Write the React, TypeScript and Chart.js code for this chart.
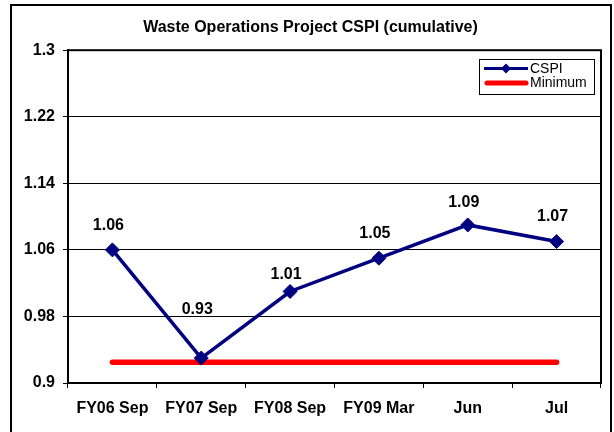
import React, { useEffect, useRef } from "react";
import { Chart, registerables } from "chart.js";

Chart.register(...registerables);

const categories = ["FY06 Sep", "FY07 Sep", "FY08 Sep", "FY09 Mar", "Jun", "Jul"];
const cspiValues = [1.06, 0.93, 1.01, 1.05, 1.09, 1.07];
const minimumValues = [0.925, 0.925, 0.925, 0.925, 0.925, 0.925];
const yTicks = [0.9, 0.98, 1.06, 1.14, 1.22, 1.3];
const titleText = "Waste Operations Project CSPI (cumulative)";

const FONT = "Arial, 'Liberation Sans', sans-serif";
// vertical lift (px) of each value label above its point
const labelLift = [20, 44, 12, 20, 18, 21];

const frameAndLabels = {
  id: "frameAndLabels",
  beforeDatasetsDraw(chart: any) {
    const { ctx, chartArea } = chart;
    ctx.save();
    ctx.strokeStyle = "#000";
    ctx.lineWidth = 2;
    ctx.strokeRect(chartArea.left, chartArea.top, chartArea.right - chartArea.left, chartArea.bottom - chartArea.top);
    ctx.restore();
  },
  afterDatasetsDraw(chart: any) {
    const { ctx } = chart;
    const meta = chart.getDatasetMeta(0);
    ctx.save();
    ctx.font = `bold 16px ${FONT}`;
    ctx.fillStyle = "#000";
    ctx.textAlign = "center";
    ctx.textBaseline = "alphabetic";
    meta.data.forEach((pt: any, i: number) => {
      const v = chart.data.datasets[0].data[i] as number;
      ctx.fillText(v.toFixed(2), pt.x - 4, pt.y - labelLift[i]);
    });
    ctx.restore();
  },
  afterDraw(chart: any) {
    const { ctx } = chart;
    const ds = chart.data.datasets;
    const bx = 479, by = 59, bw = 115, bh = 35;
    ctx.save();
    ctx.fillStyle = "#fff";
    ctx.fillRect(bx, by, bw, bh);
    ctx.strokeStyle = "#000";
    ctx.lineWidth = 1;
    ctx.strokeRect(bx + 0.5, by + 0.5, bw, bh);
    const rows = [68.5, 83];
    ctx.font = `14px ${FONT}`;
    ctx.textBaseline = "middle";
    ctx.textAlign = "left";
    ds.forEach((d: any, i: number) => {
      const y = rows[i];
      ctx.beginPath();
      ctx.strokeStyle = d.borderColor;
      ctx.lineWidth = i === 0 ? 3 : 5;
      ctx.lineCap = i === 0 ? "butt" : "round";
      ctx.moveTo(i === 0 ? 484 : 487, y);
      ctx.lineTo(i === 0 ? 528 : 526, y);
      ctx.stroke();
      if (i === 0) {
        ctx.fillStyle = d.borderColor;
        ctx.beginPath();
        ctx.moveTo(506, y - 5);
        ctx.lineTo(511, y);
        ctx.lineTo(506, y + 5);
        ctx.lineTo(501, y);
        ctx.closePath();
        ctx.fill();
      }
      ctx.fillStyle = "#000";
      ctx.fillText(d.label, 530, y + 0.5);
    });
    ctx.restore();
  },
};

export default function App() {
  const ref = useRef<HTMLCanvasElement | null>(null);

  useEffect(() => {
    document.body.style.margin = "0";
    if (!ref.current) return;
    const chart = new Chart(ref.current, {
      type: "line",
      data: {
        labels: categories,
        datasets: [
          {
            label: "CSPI",
            data: cspiValues,
            borderColor: "#000080",
            backgroundColor: "#000080",
            borderWidth: 3.5,
            pointStyle: "rectRot",
            pointRadius: 7,
            pointBackgroundColor: "#000080",
            pointBorderColor: "#000080",
            pointBorderWidth: 1,
            tension: 0,
          },
          {
            label: "Minimum",
            data: minimumValues,
            borderColor: "#ff0000",
            backgroundColor: "#ff0000",
            borderWidth: 5.5,
            borderCapStyle: "round",
            pointRadius: 0,
            tension: 0,
          },
        ],
      },
      options: {
        animation: false,
        responsive: false,
        devicePixelRatio: 1,
        layout: { padding: { left: 20, right: 13, top: 0, bottom: 0 } },
        plugins: {
          legend: { display: false },
          tooltip: { enabled: false },
          title: {
            display: true,
            text: titleText,
            color: "#000",
            font: { family: FONT, size: 16, weight: "bold" },
            padding: { top: 18, bottom: 13 },
          },
        },
        scales: {
          x: {
            offset: true,
            grid: {
              display: true,
              offset: true,
              drawOnChartArea: false,
              drawTicks: true,
              tickLength: 5,
              color: "#000",
              tickColor: "#000",
            },
            border: { display: true, color: "#000", width: 2 },
            ticks: {
              color: "#000",
              font: { family: FONT, size: 16, weight: "bold" },
              padding: 11,
              maxRotation: 0,
              autoSkip: false,
            },
            afterFit: (s: any) => {
              s.height = 49;
            },
          },
          y: {
            min: 0.9,
            max: 1.3,
            afterBuildTicks: (s: any) => {
              s.ticks = yTicks.map((v) => ({ value: v }));
            },
            grid: {
              color: "#000",
              lineWidth: 1,
              tickLength: 5,
              tickColor: "#000",
            },
            border: { display: true, color: "#000", width: 2 },
            ticks: {
              color: "#000",
              font: { family: FONT, size: 16, weight: "bold" },
              padding: 8,
              callback: (v: any) => String(Number(v)),
            },
            afterFit: (s: any) => {
              s.width = 48;
            },
          },
        },
      },
      plugins: [frameAndLabels],
    });
    return () => chart.destroy();
  }, []);

  return (
    <div style={{ position: "fixed", left: 0, top: 0, width: 614, height: 432, overflow: "hidden", background: "#fff" }}>
      <div
        style={{
          position: "absolute",
          left: 10,
          top: 4,
          width: 602,
          height: 440,
          boxSizing: "border-box",
          border: "2px solid #000",
        }}
      />
      <canvas ref={ref} width={614} height={432} style={{ position: "absolute", left: 0, top: 0 }} />
    </div>
  );
}
